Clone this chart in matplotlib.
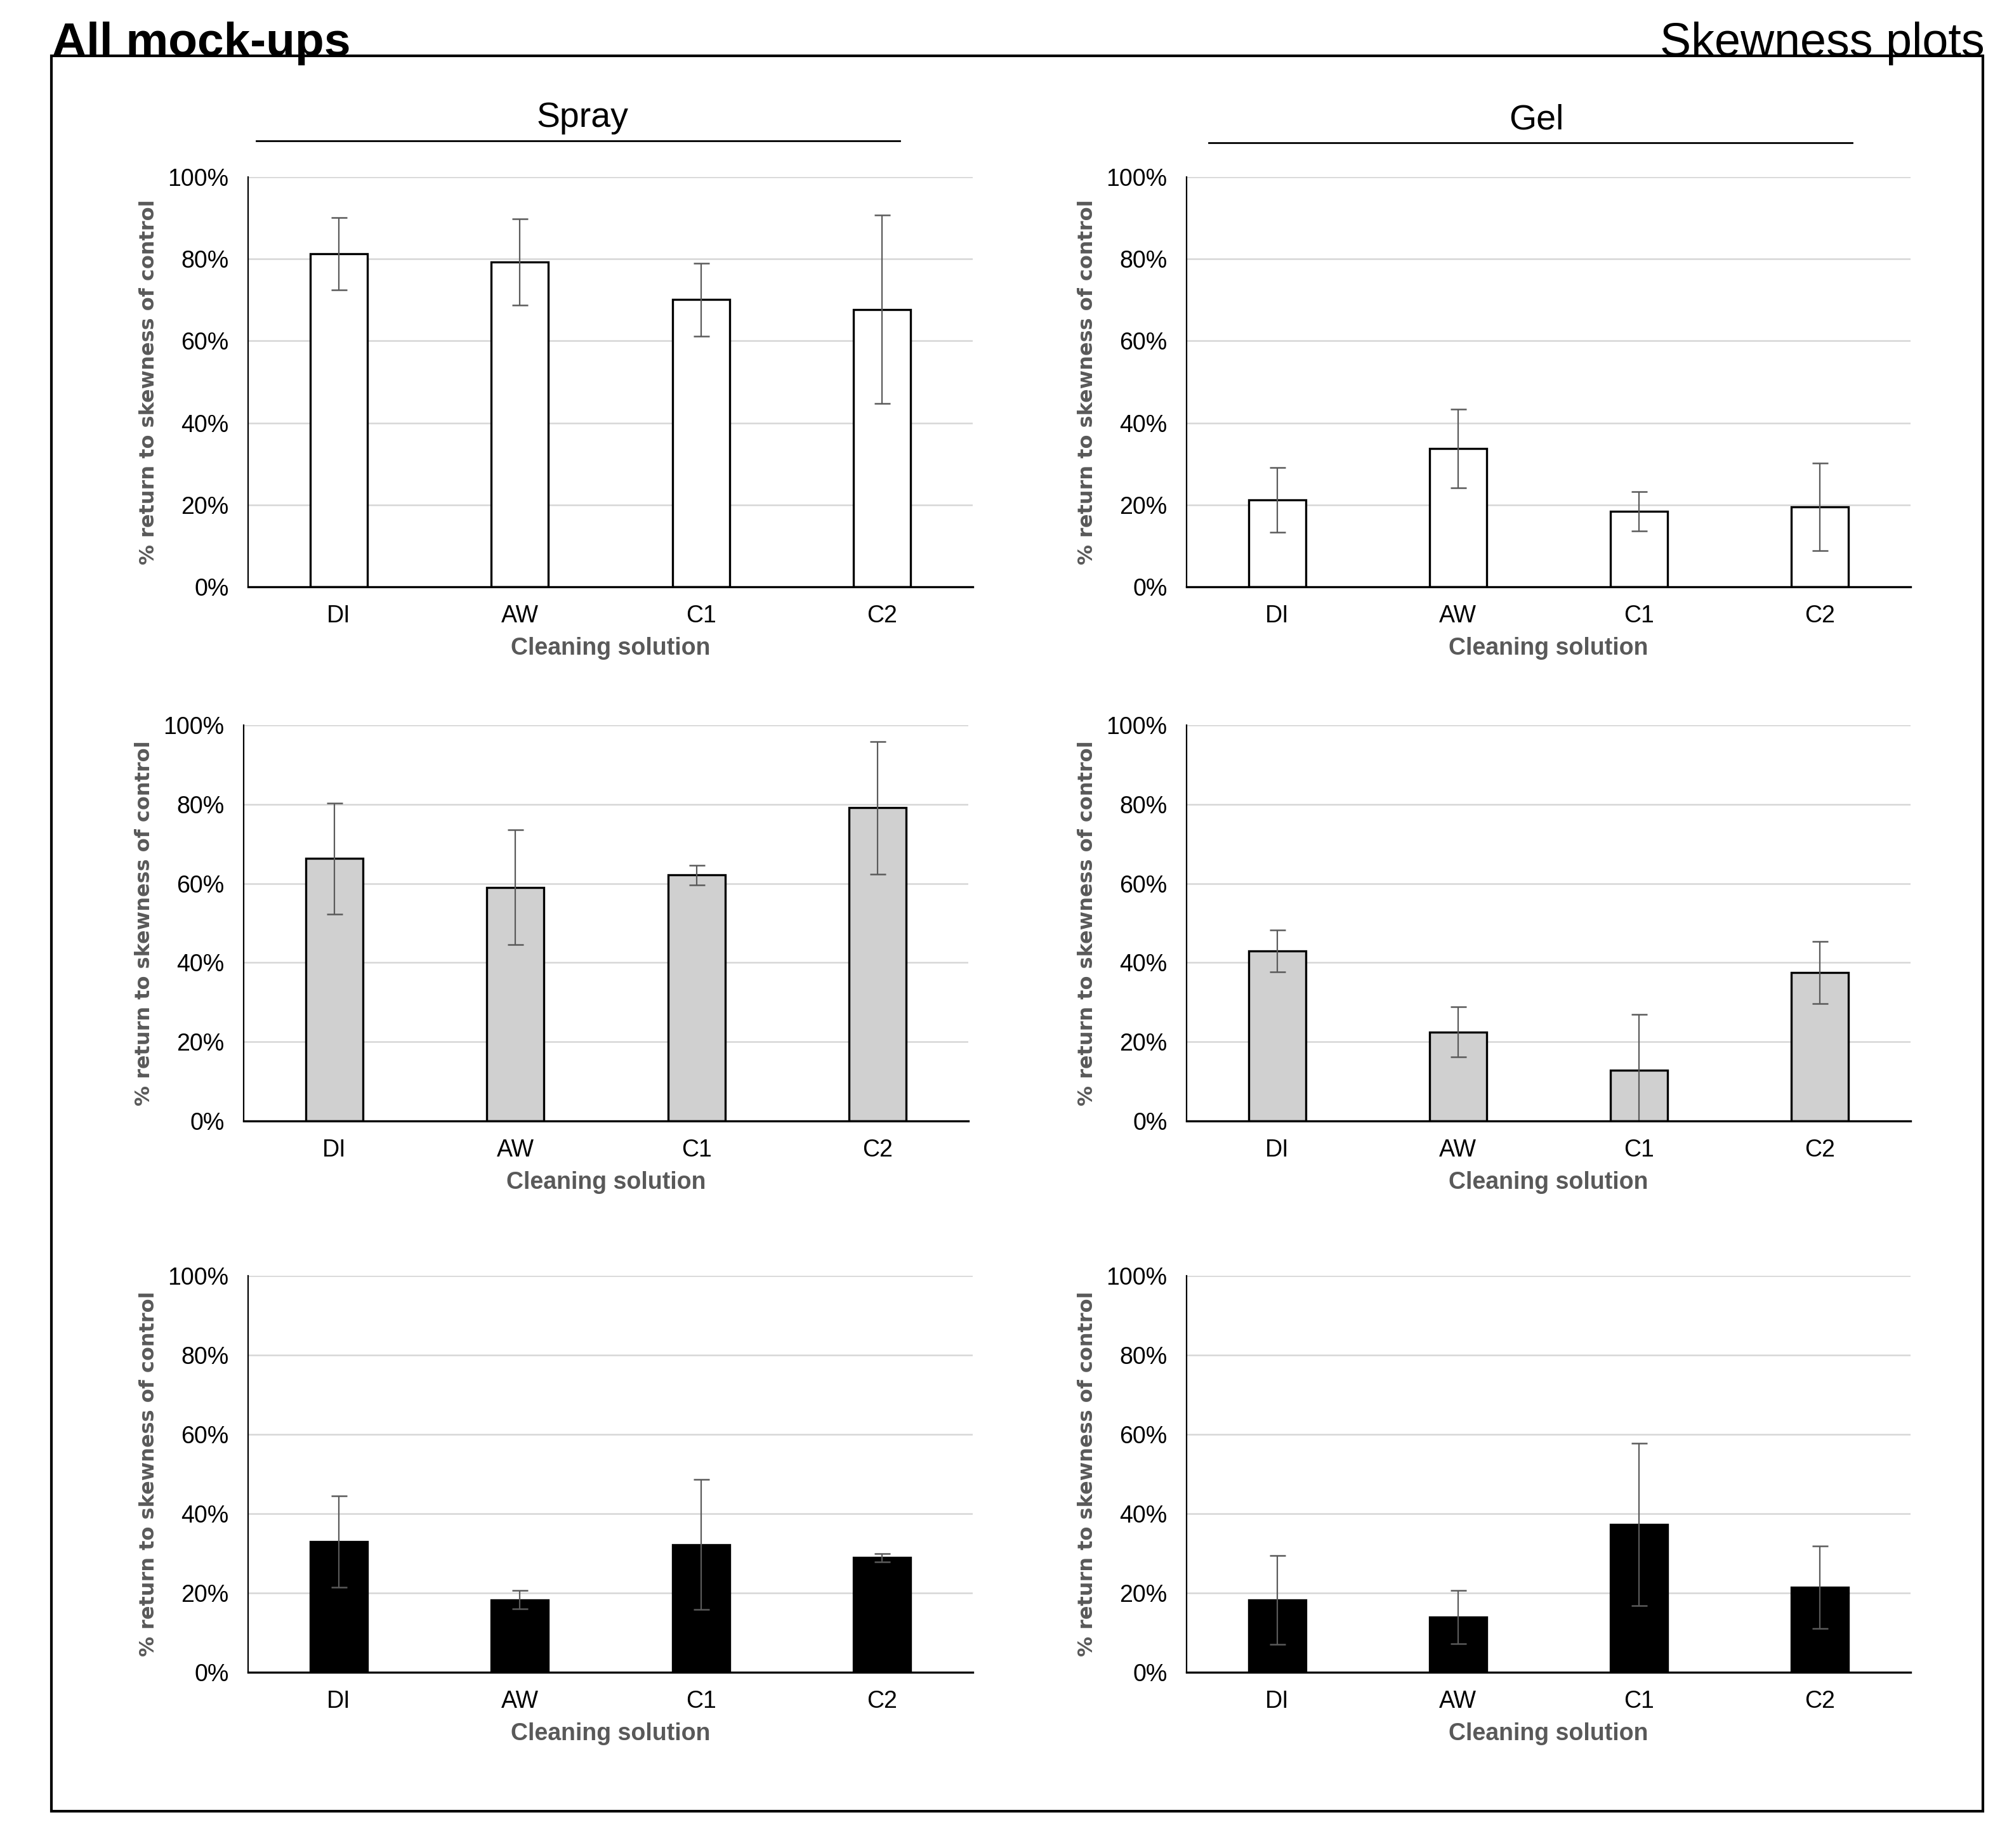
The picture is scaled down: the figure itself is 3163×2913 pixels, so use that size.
import matplotlib
matplotlib.use("Agg")
import matplotlib.pyplot as plt
from matplotlib.ticker import PercentFormatter
from matplotlib.patches import Rectangle
from matplotlib.lines import Line2D

# ---------------- data ----------------
categories = ["DI", "AW", "C1", "C2"]

spray_white = [81.3, 79.3, 70.1, 67.7]
spray_white_err = [8.8, 10.5, 8.9, 23.0]
gel_white = [21.2, 33.7, 18.4, 19.5]
gel_white_err = [7.9, 9.6, 4.8, 10.7]

spray_gray = [66.3, 59.0, 62.1, 79.1]
spray_gray_err = [14.0, 14.5, 2.5, 16.8]
gel_gray = [42.9, 22.5, 12.9, 37.5]
gel_gray_err = [5.3, 6.3, 14.1, 7.9]

spray_black = [33.0, 18.3, 32.2, 28.9]
spray_black_err = [11.5, 2.3, 16.4, 1.0]
gel_black = [18.3, 13.9, 37.3, 21.4]
gel_black_err = [11.2, 6.7, 20.5, 10.4]

column_titles = ["Spray", "Gel"]
ytick_values = [0, 20, 40, 60, 80, 100]
ylabel_text = "% return to skewness of control"
xlabel_text = "Cleaning solution"

# ---------------- figure ----------------
W, H = 3163, 2913
fig = plt.figure(figsize=(W / 100, H / 100), dpi=100)
fig.patch.set_facecolor("white")

def fx(px):
    return px / W

def fy(py):
    return 1 - py / H

# outer frame
fig.add_artist(Rectangle((fx(81), fy(2855)), fx(3125) - fx(81), fy(88) - fy(2855),
                         transform=fig.transFigure, fill=False, edgecolor="black",
                         linewidth=3.0, zorder=0))

fig.text(fx(82), fy(88), "All mock-ups", fontsize=54, fontweight="bold",
         family="Liberation Sans", ha="left", va="baseline", color="black")
fig.text(fx(3128), fy(88), "Skewness plots", fontsize=53,
         family="Liberation Sans", ha="right", va="baseline", color="black")

# column headers
headers = [(column_titles[0], 918, 404, 1418, 222), (column_titles[1], 2421, 1905, 2919, 225)]
for txt, cx, x0, x1, ly in headers:
    fig.text(fx(cx), fy(ly - 22), txt, fontsize=40, family="Liberation Sans",
             ha="center", va="baseline", color="black")
    fig.add_artist(Line2D([fx(x0), fx(x1)], [fy(ly), fy(ly)], transform=fig.transFigure,
                          color="black", linewidth=2.0))

panels = [
    # (values, errors, facecolor, left, right, top, bottom)
    (spray_white, spray_white_err, "white", 391, 1533, 279, 925),
    (gel_white, gel_white_err, "white", 1870, 3011, 279, 925),
    (spray_gray, spray_gray_err, "#d0d0d0", 384, 1526, 1143, 1767),
    (gel_gray, gel_gray_err, "#d0d0d0", 1870, 3011, 1143, 1767),
    (spray_black, spray_black_err, "black", 391, 1533, 2011, 2636),
    (gel_black, gel_black_err, "black", 1870, 3011, 2011, 2636),
]

for vals, errs, fc, l, r, t, b in panels:
    ax = fig.add_axes([fx(l), fy(b), fx(r) - fx(l), fy(t) - fy(b)])
    x = list(range(len(categories)))
    ax.bar(x, vals, width=0.315, color=fc, edgecolor="black", linewidth=2.4, zorder=3)
    lower = [min(e, v) for v, e in zip(vals, errs)]
    ax.errorbar(x, vals, yerr=[lower, errs], fmt="none", ecolor="#5a5a5a",
                elinewidth=1.6, capsize=9, capthick=1.8, zorder=4)
    ax.set_xlim(-0.5, len(categories) - 0.5)
    ax.set_ylim(0, 100)
    ax.set_yticks(ytick_values)
    ax.yaxis.set_major_formatter(PercentFormatter(decimals=0))
    ax.set_xticks(x)
    ax.set_xticklabels(categories)
    ax.grid(axis="y", color="#d6d6d6", linewidth=1.8, zorder=0)
    ax.set_axisbelow(True)
    for s in ("top", "right"):
        ax.spines[s].set_visible(False)
    ax.spines["left"].set_linewidth(1.6)
    ax.spines["bottom"].set_linewidth(2.4)
    ax.spines["left"].set_zorder(5)
    ax.spines["bottom"].set_zorder(5)
    ax.tick_params(axis="both", length=0, labelsize=27)
    ax.tick_params(axis="y", pad=22)
    ax.tick_params(axis="x", pad=20)
    for lab in ax.get_xticklabels() + ax.get_yticklabels():
        lab.set_family("Liberation Sans")
        lab.set_color("black")
    ax.set_ylabel(ylabel_text, fontsize=23, fontweight="bold", family="DejaVu Sans",
                  color="#595959", labelpad=10)
    ax.set_xlabel(xlabel_text, fontsize=27, fontweight="bold", family="Liberation Sans",
                  color="#595959", labelpad=11)

fig.savefig("out.png", dpi=100, facecolor="white")
